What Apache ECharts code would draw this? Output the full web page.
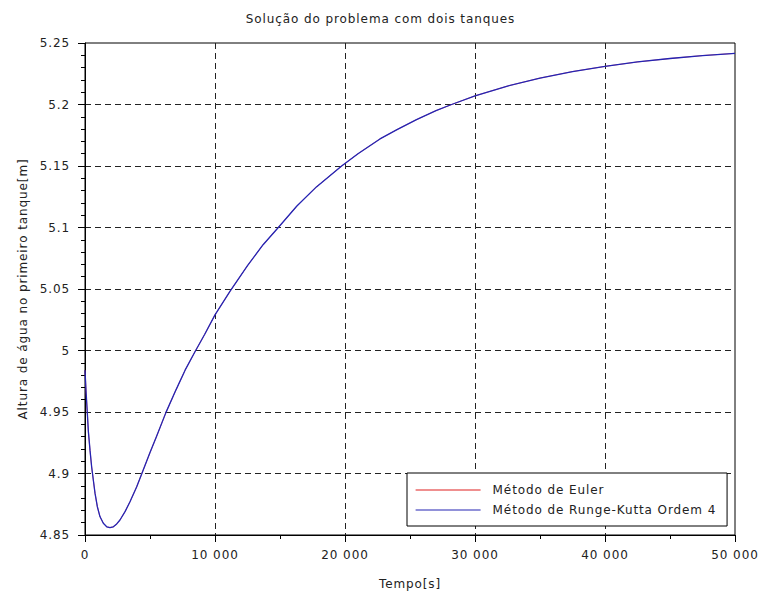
<!DOCTYPE html>
<html>
<head>
<meta charset="utf-8">
<script src="https://cdn.jsdelivr.net/npm/echarts@6/dist/echarts.min.js"></script>
<style>
  html, body { margin: 0; padding: 0; background: #fff; }
  #chart { width: 761px; height: 595px; }
  #chart text { letter-spacing: 0.9px; }
</style>
</head>
<body>
<div id="chart"></div>
<script>
// ---- data ----
const tempo = [0, 90, 180, 260, 385, 510, 640, 770, 950, 1150, 1410, 1670, 1920, 2180, 2440, 2690, 3080, 3460, 3970, 4360, 5000, 5500, 6230, 7000, 7700, 8460, 9200, 10000, 11150, 12500, 13700, 14870, 16300, 17800, 19740, 21000, 22690, 24000, 25500, 27000, 28200, 30000, 32500, 35000, 37500, 40000, 42500, 45000, 47500, 50000];
const alturaRK4 = [4.984, 4.965, 4.949, 4.934, 4.919, 4.9055, 4.8947, 4.884, 4.873, 4.865, 4.8595, 4.8567, 4.856, 4.8567, 4.859, 4.8622, 4.869, 4.877, 4.889, 4.8996, 4.917, 4.930, 4.9497, 4.968, 4.984, 4.999, 5.013, 5.029, 5.048, 5.069, 5.086, 5.100, 5.1175, 5.133, 5.150, 5.160, 5.172, 5.1796, 5.1877, 5.195, 5.200, 5.207, 5.215, 5.2215, 5.2268, 5.231, 5.2346, 5.2374, 5.2398, 5.2416];
const alturaEuler = [4.984, 4.965, 4.949, 4.934, 4.919, 4.9055, 4.8947, 4.884, 4.873, 4.865, 4.8595, 4.8567, 4.856, 4.8567, 4.859, 4.8622, 4.869, 4.877, 4.889, 4.8996, 4.917, 4.930, 4.9497, 4.968, 4.984, 4.999, 5.013, 5.029, 5.048, 5.069, 5.086, 5.100, 5.1175, 5.133, 5.150, 5.160, 5.172, 5.1796, 5.1877, 5.195, 5.200, 5.207, 5.215, 5.2215, 5.2268, 5.231, 5.2346, 5.2374, 5.2398, 5.2416];
const seriesNames = ['Método de Euler', 'Método de Runge-Kutta Ordem 4'];
const xTickLabels = ['0', '10 000', '20 000', '30 000', '40 000', '50 000'];
const yTickLabels = ['4.85', '4.9', '4.95', '5', '5.05', '5.1', '5.15', '5.2', '5.25'];
const titleText = 'Solução do problema com dois tanques';
const xName = 'Tempo[s]';
const yName = 'Altura de água no primeiro tanque[m]';

const FONT = 'DejaVu Sans';
const chart = echarts.init(document.getElementById('chart'), null, { renderer: 'svg' });

const eulerData = tempo.map((t, i) => [t, alturaEuler[i]]);
const rk4Data = tempo.map((t, i) => [t, alturaRK4[i]]);

chart.setOption({
  backgroundColor: '#ffffff',
  animation: false,
  title: {
    text: titleText,
    left: 'center',
    top: 13,
    padding: 0,
    textStyle: { fontFamily: FONT, fontSize: 12, fontWeight: 'normal', color: '#222' }
  },
  grid: {
    left: 85, top: 43, width: 650, height: 492,
    show: true, borderColor: '#000', borderWidth: 1, backgroundColor: 'transparent'
  },
  legend: {
    orient: 'vertical',
    left: 407, top: 473,
    padding: [11, 37, 10, 8],
    itemWidth: 65, itemHeight: 14, itemGap: 8,
    borderColor: '#000', borderWidth: 1, backgroundColor: '#fff',
    itemStyle: { opacity: 0 },
    textStyle: { fontFamily: FONT, fontSize: 12, color: '#222', padding: [0, 0, 0, 7] },
    data: seriesNames.map(n => ({ name: n, lineStyle: { width: 1.2 } }))
  },
  xAxis: {
    type: 'value',
    min: 0, max: 50000, interval: 10000,
    name: xName, nameLocation: 'middle', nameGap: 43,
    nameTextStyle: { fontFamily: FONT, fontSize: 12, color: '#222' },
    axisLine: { show: true, onZero: false, lineStyle: { color: '#000', width: 1 } },
    axisTick: { show: true, length: 7, lineStyle: { color: '#000' } },
    minorTick: { show: true, splitNumber: 2, length: 4, lineStyle: { color: '#000' } },
    axisLabel: {
      fontFamily: FONT, fontSize: 12, color: '#222', margin: 14,
      formatter: v => xTickLabels[Math.round(v / 10000)]
    },
    splitLine: { show: true, showMinLine: false, showMaxLine: false, lineStyle: { color: '#222', type: [6, 4], width: 1 } }
  },
  yAxis: {
    type: 'value',
    min: 4.85, max: 5.25, interval: 0.05,
    name: yName, nameLocation: 'middle', nameGap: 56,
    nameTextStyle: { fontFamily: FONT, fontSize: 12, color: '#222' },
    axisLine: { show: true, onZero: false, lineStyle: { color: '#000', width: 1 } },
    axisTick: { show: true, length: 7, lineStyle: { color: '#000' } },
    minorTick: { show: true, splitNumber: 5, length: 4, lineStyle: { color: '#000' } },
    axisLabel: {
      fontFamily: FONT, fontSize: 12, color: '#222', margin: 15,
      formatter: v => yTickLabels[Math.round((v - 4.85) / 0.05)]
    },
    splitLine: { show: true, showMinLine: false, showMaxLine: false, lineStyle: { color: '#222', type: [6, 4], width: 1 } }
  },
  series: [
    {
      name: seriesNames[0], type: 'line', data: eulerData,
      showSymbol: false, symbol: 'none', smooth: false,
      lineStyle: { color: '#e02020', width: 0.6 }, itemStyle: { color: '#e02020' }
    },
    {
      name: seriesNames[1], type: 'line', data: rk4Data,
      showSymbol: false, symbol: 'none', smooth: false,
      lineStyle: { color: '#2424b4', width: 1.3 }, itemStyle: { color: '#2424b4' }
    }
  ]
});
</script>
</body>
</html>
